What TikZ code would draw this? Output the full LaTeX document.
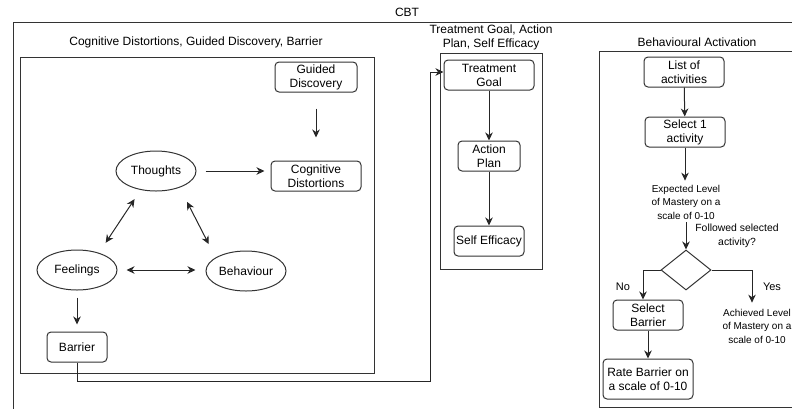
\documentclass[tikz,border=0pt]{standalone}
\usepackage{fontspec}
\setmainfont{Liberation Sans}
\usetikzlibrary{shapes.geometric,arrows.meta,calc}

\begin{document}
\begin{tikzpicture}[x=1pt,y=-1pt,
  every node/.style={font=\fontsize{12}{14}\selectfont, text=black},
  box/.style={draw=black!80, line width=1pt, rounded corners=4pt, inner sep=0pt,
    minimum height=30pt, align=center},
  oval/.style={ellipse, draw=black!80, line width=1pt, minimum width=80pt,
    minimum height=40pt, inner sep=0pt},
  decision/.style={diamond, draw=black!80, line width=1pt, minimum width=50pt,
    minimum height=40pt, inner sep=0pt},
  frame/.style={draw=black!80, line width=1pt},
  tip/.tip={Stealth[length=8pt,width=7.5pt,inset=2.5pt]},
  arr/.style={draw=black!85, line width=1pt, -tip},
  darr/.style={draw=black!85, line width=1pt, tip-tip},
  note/.style={font=\fontsize{10}{13.5}\selectfont, align=center, inner sep=0pt},
  lab/.style={font=\fontsize{11}{13}\selectfont, inner sep=0pt},
]
\useasboundingbox (0,0) rectangle (792,408);
\clip (0,0) rectangle (792,408);

% containers
\draw[frame] (13,22) rectangle (805,420);
\draw[frame] (20,57) rectangle (374,373);
\draw[frame] (440,53) rectangle (542,269);
\draw[frame] (599,51) rectangle (805,407);

% container titles
\node (cbt) at (407,12) {CBT};
\node (tleft) at (196,42) {Cognitive Distortions, Guided Discovery, Barrier};
\node[align=center] (tmid) at (491,37) {Treatment Goal, Action\\Plan, Self Efficacy};
\node (tright) at (697,42) {Behavioural Activation};

% cognitive model
\node[box, minimum width=82pt] (gd) at (316,77) {Guided\\Discovery};
\node[box, minimum width=90pt] (cd) at (316,176) {Cognitive\\Distortions};
\node[oval] (th) at (156,171) {Thoughts};
\node[oval] (fe) at (77,270) {Feelings};
\node[oval] (be) at (246,271) {Behaviour};
\node[box, minimum width=60pt] (ba) at (77,347) {Barrier};

\draw[arr, shorten <=16pt, shorten >=23pt] (gd) -- (cd);
\draw[arr, shorten <=9pt, shorten >=6pt] (th.east) -- (th.east -| cd.west);
\draw[darr, shorten <=12pt, shorten >=11pt] (fe.38) -- (th.231);
\draw[darr, shorten <=16pt, shorten >=15pt] (th.325) -- (be.156);
\draw[darr, shorten <=9pt, shorten >=10pt] (fe.east) -- (fe.east -| be.west);
\draw[arr, shorten <=7pt, shorten >=7pt] (fe) -- (ba);

% goals column
\node[box, minimum width=90pt] (tg) at (489,75) {Treatment\\Goal};
\node[box, minimum width=62pt] (ap) at (489,156) {Action\\Plan};
\node[box, minimum width=70pt] (se) at (489,241) {Self Efficacy};

\draw[arr] (tg) -- (ap);
\draw[arr] (ap) -- (se);
\draw[arr] (ba.south) -- ++(0,19) -| ($(tg.west)+(-13,-3)$) -- ($(tg.west)+(0,-3)$);

% behavioural activation
\node[box, minimum width=80pt] (la) at (684,72) {List of\\activities};
\node[box, minimum width=80pt] (s1) at (685,132) {Select 1\\activity};
\node[note] (ex) at (686,202) {Expected Level\\of Mastery on a\\scale of 0-10};
\node[decision] (dm) at (686,270) {};
\node[note, font=\fontsize{10.4}{14}\selectfont] (fo) at (737,236) {Followed selected\\activity?};
\node[box, minimum width=70pt] (sb) at (648,315) {Select\\Barrier};
\node[box, minimum width=90pt, minimum height=40pt] (rb) at (648,379) {Rate Barrier on\\a scale of 0-10};
\node[note] (ac) at (757,326) {Achieved Level\\of Mastery on a\\scale of 0-10};
\node[lab] (no) at (623,287) {No};
\node[lab] (yes) at (772,287) {Yes};

\draw[arr] (la) -- (s1);
\draw[arr, shorten >=4pt] (s1.south) -- (s1.south |- ex.north);
\draw[arr, shorten <=3pt] (ex.south -| dm.north) -- (dm.north);
\draw[arr] (dm.west) -| ($(sb.north)+(-5,0)$);
\draw[arr, shorten >=6pt] (dm.east) -| ($(ac.north)+(-5,0)$);
\draw[arr] (sb) -- (rb);
\end{tikzpicture}
\end{document}
